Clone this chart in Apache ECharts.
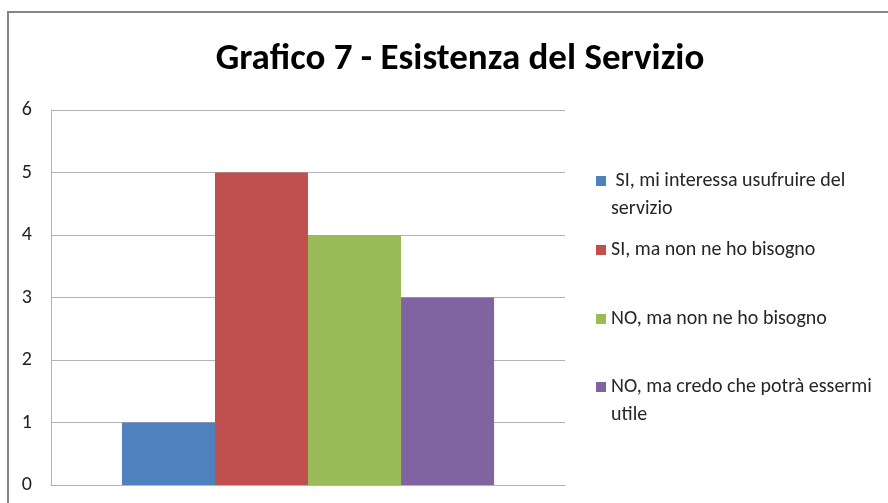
<!DOCTYPE html>
<html>
<head>
<meta charset="utf-8">
<script src="https://cdn.jsdelivr.net/npm/echarts@6/dist/echarts.min.js"></script>
<style>
  html, body { margin: 0; padding: 0; background: #fff; }
  #chart { width: 888px; height: 503px; }
</style>
</head>
<body>
<div id="chart"></div>
<script>
// dati del grafico
const titolo = 'Grafico 7 - Esistenza del Servizio';
const risposte = [
  ' SI, mi interessa usufruire del\nservizio',
  'SI, ma non ne ho bisogno',
  'NO, ma non ne ho bisogno',
  'NO, ma credo che potrà essermi\nutile'
];
const valori = [1, 5, 4, 3];
const colori = ['#4f81bd', '#c0504d', '#9bbb59', '#8064a2'];
const yTicks = [0, 1, 2, 3, 4, 5, 6];

const font = "Carlito, 'Liberation Sans Narrow', 'Open Sans', sans-serif";

const chart = echarts.init(document.getElementById('chart'));

// una legenda per voce, per avere le spaziature dell'originale
// (riga vuota in testa: così il quadratino resta sulla prima riga)
const legendTop = [139, 236, 305, 345];
const legende = risposte.map((r, i) => ({
  data: [r],
  left: 596,
  top: legendTop[i],
  padding: 0,
  itemWidth: 10,
  itemHeight: 10,
  itemGap: 5,
  icon: 'rect',
  selectedMode: false,
  formatter: name => (name.indexOf('\n') >= 0 ? '\n' + name : name),
  textStyle: {
    fontFamily: font,
    fontSize: 20,
    color: '#262626',
    lineHeight: 28
  }
}));

const option = {
  animation: false,
  backgroundColor: '#fff',
  title: {
    text: titolo,
    left: 455,
    textAlign: 'center',
    top: 36,
    textStyle: { fontFamily: font, fontSize: 37, fontWeight: 'bold', color: '#000' }
  },
  legend: legende,
  graphic: [{
    type: 'rect',
    shape: { x: 8, y: 12, width: 900, height: 520 },
    style: { fill: 'none', stroke: '#868686', lineWidth: 2 },
    silent: true
  }],
  grid: { left: 51, right: 323, top: 110, bottom: 18 },
  xAxis: {
    type: 'category',
    data: [''],
    axisLine: { lineStyle: { color: '#b3b3b3', width: 1 } },
    axisTick: { show: false },
    axisLabel: { show: false }
  },
  yAxis: {
    type: 'value',
    min: yTicks[0],
    max: yTicks[yTicks.length - 1],
    interval: 1,
    axisLine: { show: true, lineStyle: { color: '#b3b3b3', width: 1 } },
    axisTick: { show: false },
    splitLine: { lineStyle: { color: '#b3b3b3', width: 1 } },
    axisLabel: { margin: 19, fontFamily: font, fontSize: 20, color: '#222' }
  },
  series: risposte.map((r, i) => ({
    name: r,
    type: 'bar',
    data: [valori[i]],
    barGap: '0%',
    barCategoryGap: '27.6%',
    itemStyle: { color: colori[i] }
  }))
};

chart.setOption(option);
</script>
</body>
</html>
